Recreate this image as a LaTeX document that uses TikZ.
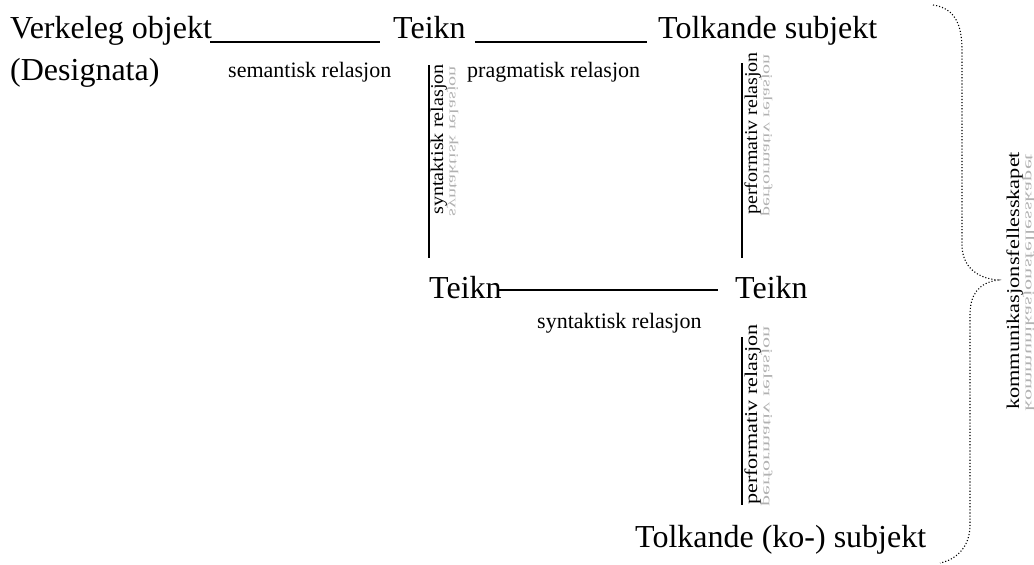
\documentclass[tikz,border=0pt]{standalone}
\usepackage{fontspec}
\setmainfont{Liberation Serif}
\begin{document}
\begin{tikzpicture}[x=1pt,y=-1pt,
  big/.style={inner sep=0pt, anchor=base west, font=\fontsize{32}{32}\selectfont},
  small/.style={inner sep=0pt, anchor=base west, font=\fontsize{22}{22}\selectfont},
  vlab/.style={inner sep=0pt, anchor=base west, rotate=90, xscale=#1, font=\fontsize{18}{18}\selectfont},
  vshadow/.style={vlab=#1, yscale=-0.7, text=black!30},
  hline/.style={line width=1.6pt},
  vline/.style={line width=1.6pt},
  brace/.style={dotted, line width=1.1pt}]
\useasboundingbox (0,0) rectangle (1034,565);

\node[big] (vo) at (10,38) {Verkeleg objekt};
\node[big] (t1) at (393,38) {Teikn};
\node[big] (ts) at (658,38) {Tolkande subjekt};
\node[big] (des) at (10,80) {(Designata)};
\node[small] (sem) at (228,77) {semantisk relasjon};
\node[small] (pra) at (467,77) {pragmatisk relasjon};
\node[big] (t2) at (429,298) {Teikn};
\node[big] (t3) at (735,298) {Teikn};
\node[small] (syn) at (537,328) {syntaktisk relasjon};
\node[big] (tks) at (635,547) {Tolkande (ko-) subjekt};

% horizontal connectors
\draw[hline] ([xshift=-2,yshift=-4]vo.base east) -- ([xshift=-13,yshift=-4]t1.base west);
\draw[hline] ([xshift=9,yshift=-4]t1.base east) -- ([xshift=-11,yshift=-4]ts.base west);
\draw[hline, line width=1.3pt] ([xshift=-3,yshift=8]t2.base east) -- ([xshift=-17,yshift=8]t3.base west);

% vertical connectors
\coordinate (s1top) at (429,65);
\coordinate (p1top) at (742,63);
\draw[vline] (s1top) -- ([yshift=40]t2.base west);
\draw[vline] (p1top) -- ([xshift=7,yshift=40]t3.base west);
\draw[vline] ([xshift=7,yshift=-39]t3.base west) -- ([xshift=107,yshift=42]tks.base west);

% rotated labels with reflections
\node[vlab=1.12] (l1) at (443,215) {syntaktisk relasjon};
\node[vshadow=1.12] (l1r) at (449.5,217) {syntaktisk relasjon};
\node[vlab=1.11] (l2) at (757,215) {performativ relasjon};
\node[vshadow=1.11] (l2r) at (763.5,217) {performativ relasjon};
\node[vlab=1.23] (l3) at (757,505) {performativ relasjon};
\node[vshadow=1.23] (l3r) at (763.5,507) {performativ relasjon};
\node[vlab=1.24] (l4) at (1019,410) {kommunikasjonsfellesskapet};
\node[vshadow=1.24] (l4r) at (1025.5,412) {kommunikasjonsfellesskapet};

% dotted brace
\draw[brace] (933,5) .. controls (955,8) and (962,25) .. (962,50) -- (962,245)
  .. controls (962,265) and (975,278) .. (998,280)
  .. controls (978,283) and (970,295) .. (970,315) -- (970,525)
  .. controls (970,548) and (955,560) .. (940,563);
\end{tikzpicture}
\end{document}
